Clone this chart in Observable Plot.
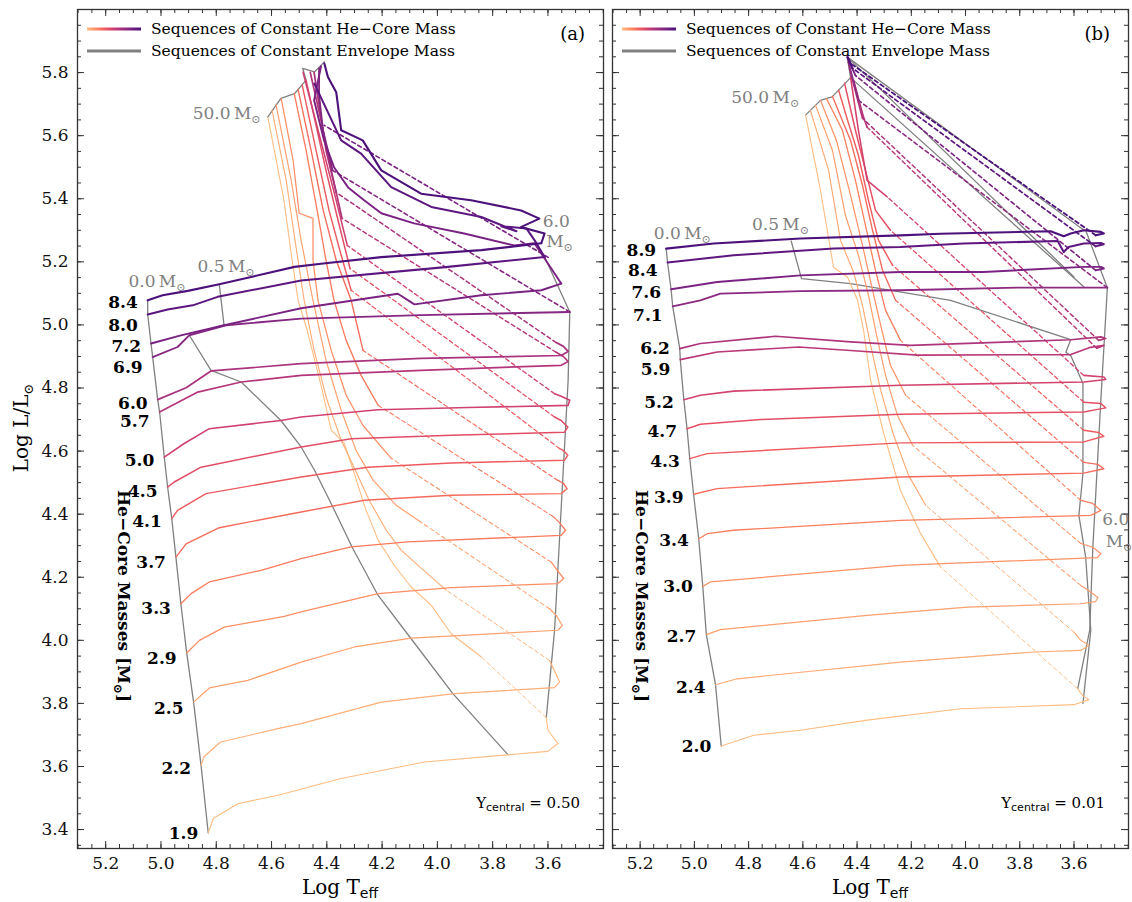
<!DOCTYPE html>
<html><head><meta charset="utf-8">
<script src="https://cdn.jsdelivr.net/npm/d3@7"></script>
<script src="https://cdn.jsdelivr.net/npm/@observablehq/plot@0.6"></script>
<style>
body{margin:0;background:#fff;}
#wrap{position:relative;width:1132px;height:902px;overflow:hidden;background:#fff;}
#wrap svg{position:absolute;top:0;overflow:visible;}
</style></head><body><div id="wrap"></div>
<script>
// ---------------- DATA (Log Teff, Log L) ----------------
const xTicks = [5.2, 5.0, 4.8, 4.6, 4.4, 4.2, 4.0, 3.8, 3.6];
const yTicks = [3.4, 3.6, 3.8, 4.0, 4.2, 4.4, 4.6, 4.8, 5.0, 5.2, 5.4, 5.6, 5.8];

// Panel (a)  Y_central = 0.50
const massA = [1.9, 2.2, 2.5, 2.9, 3.3, 3.7, 4.1, 4.5, 5.0, 5.7, 6.0, 6.9, 7.2, 8.0, 8.4];
const labelLA = [3.388, 3.594, 3.784, 3.943, 4.101, 4.247, 4.377, 4.472, 4.570, 4.694, 4.751, 4.866, 4.932, 4.998, 5.072];
const lowA = [
 [[4.829,3.389],[4.811,3.435],[4.722,3.482],[4.577,3.509],[4.348,3.562],[4.047,3.614],[3.600,3.648],[3.564,3.673],[3.600,3.715],[3.606,3.755]],
 [[4.855,3.603],[4.845,3.630],[4.786,3.677],[4.577,3.720],[4.493,3.736],[4.203,3.804],[3.938,3.831],[3.576,3.850],[3.558,3.868],[3.577,3.905],[3.594,3.936]],
 [[4.882,3.804],[4.825,3.849],[4.686,3.873],[4.493,3.931],[4.300,3.979],[4.095,4.007],[3.564,4.032],[3.548,4.047],[3.570,4.079],[3.594,4.100]],
 [[4.907,3.960],[4.861,4.000],[4.771,4.042],[4.554,4.076],[4.493,4.090],[4.215,4.148],[3.950,4.167],[3.564,4.180],[3.543,4.196],[3.566,4.222],[3.588,4.248]],
 [[4.928,4.116],[4.891,4.148],[4.825,4.185],[4.638,4.222],[4.493,4.259],[4.312,4.296],[4.107,4.312],[3.552,4.333],[3.536,4.349],[3.559,4.374],[3.582,4.393]],
 [[4.946,4.264],[4.909,4.306],[4.789,4.357],[4.493,4.407],[4.264,4.444],[3.950,4.460],[3.552,4.465],[3.531,4.481],[3.544,4.498],[3.564,4.507]],
 [[4.961,4.386],[4.940,4.412],[4.837,4.465],[4.493,4.518],[4.252,4.549],[3.950,4.562],[3.540,4.571],[3.528,4.587],[3.544,4.602],[3.558,4.608]],
 [[4.976,4.486],[4.952,4.502],[4.855,4.549],[4.493,4.613],[4.312,4.639],[3.950,4.650],[3.540,4.660],[3.528,4.676],[3.552,4.697],[3.576,4.708]],
 [[4.988,4.581],[4.916,4.624],[4.825,4.671],[4.566,4.697],[4.493,4.708],[4.215,4.731],[3.889,4.738],[3.527,4.745],[3.521,4.761],[3.552,4.774],[3.576,4.782]],
 [[5.005,4.724],[4.903,4.771],[4.867,4.787],[4.710,4.819],[4.493,4.840],[4.059,4.856],[3.552,4.872],[3.527,4.884],[3.544,4.900],[3.570,4.913]],
 [[5.012,4.763],[4.909,4.801],[4.819,4.854],[4.493,4.877],[4.059,4.894],[3.552,4.903],[3.527,4.916],[3.544,4.932],[3.570,4.944]],
 [[5.030,4.898],[4.940,4.930],[4.898,4.967],[4.765,4.999],[4.493,5.020],[4.059,5.031],[3.521,5.041]],
 [[5.036,4.941],[4.928,4.967],[4.771,4.999],[4.493,5.053],[4.143,5.099],[4.083,5.065],[3.841,5.094],[3.624,5.110],[3.552,5.131]],
 [[5.048,5.033],[4.976,5.049],[4.885,5.062],[4.795,5.089],[4.493,5.141],[3.962,5.184],[3.612,5.215]],
 [[5.048,5.078],[4.994,5.094],[4.903,5.108],[4.789,5.129],[4.674,5.152],[4.517,5.184],[4.421,5.194],[4.203,5.215],[3.841,5.237],[3.624,5.259]]
];
const dashA = [
 [[3.606,3.755],[3.841,3.947]],
 [[3.594,3.936],[3.968,4.159]],
 [[3.594,4.100],[4.059,4.374]],
 [[3.588,4.248],[4.167,4.577]],
 [[3.582,4.393],[4.214,4.745]],
 [[3.564,4.507],[4.269,4.919]],
 [[3.558,4.608],[4.312,5.110]],
 [[3.576,4.708],[4.316,5.179]],
 [[3.576,4.782],[4.326,5.252]],
 [[3.570,4.913],[4.345,5.338]],
 [[3.570,4.944],[4.366,5.420]],
 [[3.521,5.041],[4.379,5.490]],
 [[3.599,5.214],[4.410,5.633]],
 [],
 []
];
const highA = [
 [[3.841,3.947],[3.950,4.021],[4.022,4.111],[4.095,4.169],[4.156,4.238],[4.214,4.317],[4.261,4.419],[4.301,4.530],[4.337,4.625],[4.384,4.666],[4.421,4.809],[4.471,4.983],[4.504,5.078],[4.529,5.227],[4.555,5.395],[4.613,5.658]],
 [[3.968,4.159],[4.059,4.229],[4.131,4.286],[4.185,4.349],[4.247,4.444],[4.305,4.555],[4.348,4.634],[4.399,4.761],[4.446,4.919],[4.482,5.078],[4.515,5.268],[4.547,5.458],[4.598,5.680]],
 [[4.059,4.374],[4.149,4.428],[4.232,4.507],[4.294,4.602],[4.348,4.729],[4.403,4.888],[4.450,5.078],[4.493,5.268],[4.529,5.458],[4.584,5.699]],
 [[4.167,4.577],[4.269,4.681],[4.330,4.777],[4.384,4.919],[4.432,5.078],[4.450,5.205],[4.450,5.338],[4.500,5.354],[4.522,5.522],[4.565,5.718]],
 [[4.214,4.745],[4.276,4.840],[4.330,4.951],[4.374,5.078],[4.403,5.205],[4.435,5.363],[4.475,5.554],[4.518,5.734]],
 [[4.269,4.919],[4.312,5.078],[4.366,5.205],[4.413,5.363],[4.457,5.554],[4.504,5.747]],
 [[4.312,5.110],[4.348,5.221],[4.392,5.363],[4.439,5.554],[4.489,5.760]],
 [[4.316,5.179],[4.355,5.316],[4.403,5.490],[4.475,5.776]],
 [[4.326,5.252],[4.366,5.395],[4.413,5.554],[4.486,5.801]],
 [[4.345,5.338],[4.384,5.490],[4.421,5.649],[4.460,5.801]],
 [[4.366,5.420],[4.403,5.554],[4.446,5.801]],
 [[4.379,5.490],[4.414,5.617],[4.428,5.728],[4.428,5.814]],
 [[3.552,5.131],[3.588,5.179],[3.649,5.259],[3.722,5.252],[3.903,5.290],[4.084,5.322],[4.203,5.354],[4.265,5.395],[4.323,5.436],[4.374,5.500],[4.410,5.585],[4.446,5.712],[4.421,5.820]],
 [[3.612,5.215],[3.648,5.268],[3.678,5.306],[3.769,5.313],[3.714,5.297],[3.841,5.342],[4.022,5.374],[4.167,5.437],[4.276,5.543],[4.348,5.585],[4.445,5.765]],
 [[3.624,5.259],[3.612,5.290],[3.698,5.310],[3.631,5.337],[3.697,5.363],[3.878,5.395],[4.059,5.416],[4.203,5.490],[4.270,5.585],[4.348,5.617],[4.366,5.738],[4.396,5.786],[4.409,5.829]]
];
const env05A = [[4.789,5.129],[4.772,5.000],[4.898,4.968],[4.819,4.856],[4.710,4.819],[4.566,4.697],[4.493,4.613],[4.445,4.540],[4.384,4.433],[4.306,4.291],[4.215,4.143],[4.095,4.005],[3.944,3.831],[3.744,3.637]];
const env6A = [[3.648,5.258],[3.612,5.215],[3.521,5.041],[3.527,4.824],[3.576,4.032],[3.606,3.755]];
const env50A = [[4.614,5.659],[4.566,5.718],[4.517,5.733],[4.475,5.776],[4.487,5.813],[4.445,5.802],[4.409,5.834]];

// Panel (b)  Y_central = 0.01
const massB = [2.0, 2.4, 2.7, 3.0, 3.4, 3.9, 4.3, 4.7, 5.2, 5.9, 6.2, 7.1, 7.6, 8.4, 8.9];
const labelLB = [3.664, 3.851, 4.013, 4.171, 4.317, 4.453, 4.567, 4.663, 4.755, 4.860, 4.926, 5.030, 5.103, 5.173, 5.237];
const lowB = [
 [[4.901,3.665],[4.781,3.699],[4.609,3.715],[4.363,3.747],[4.018,3.783],[3.600,3.796],[3.545,3.812],[3.569,3.826],[3.587,3.847]],
 [[4.922,3.859],[4.842,3.878],[4.240,3.931],[3.748,3.963],[3.575,3.968],[3.545,3.984],[3.575,4.000],[3.600,4.026]],
 [[4.956,4.018],[4.904,4.034],[4.363,4.079],[3.993,4.105],[3.575,4.116],[3.520,4.123],[3.512,4.136],[3.546,4.158],[3.575,4.174]],
 [[4.969,4.171],[4.941,4.185],[4.240,4.238],[3.514,4.262],[3.501,4.275],[3.531,4.295],[3.575,4.307]],
 [[4.984,4.322],[4.953,4.338],[4.855,4.349],[4.240,4.380],[3.538,4.396],[3.501,4.412],[3.531,4.434],[3.575,4.444]],
 [[5.003,4.463],[4.916,4.481],[4.240,4.518],[3.564,4.530],[3.490,4.544],[3.512,4.558],[3.564,4.564]],
 [[5.017,4.576],[4.953,4.592],[4.240,4.626],[3.564,4.629],[3.490,4.647],[3.509,4.659],[3.564,4.666]],
 [[5.027,4.671],[4.978,4.685],[4.756,4.700],[4.240,4.717],[3.564,4.724],[3.483,4.737],[3.501,4.751],[3.564,4.755]],
 [[5.039,4.763],[4.978,4.777],[4.855,4.790],[4.240,4.809],[3.563,4.819],[3.483,4.827],[3.490,4.835],[3.564,4.840]],
 [[5.052,4.890],[4.916,4.914],[4.615,4.930],[4.424,4.919],[4.177,4.904],[3.612,4.906],[3.539,4.929],[3.490,4.935],[3.516,4.926]],
 [[5.054,4.925],[4.978,4.941],[4.701,4.964],[4.424,4.946],[4.203,4.935],[3.612,4.953],[3.501,4.962],[3.483,4.957],[3.509,4.951]],
 [[5.080,5.059],[4.978,5.078],[4.904,5.099],[4.609,5.107],[4.240,5.110],[3.808,5.118],[3.477,5.118]],
 [[5.086,5.113],[4.916,5.136],[4.609,5.157],[4.240,5.168],[3.933,5.168],[3.564,5.184],[3.501,5.184],[3.490,5.179],[3.520,5.173]],
 [[5.099,5.198],[4.855,5.221],[4.486,5.242],[4.240,5.247],[4.007,5.258],[3.660,5.266],[3.638,5.231],[3.620,5.247],[3.564,5.258],[3.501,5.260],[3.490,5.256],[3.520,5.249]],
 [[5.104,5.242],[4.929,5.258],[4.609,5.274],[4.240,5.284],[4.092,5.289],[3.686,5.297],[3.638,5.281],[3.612,5.290],[3.564,5.300],[3.501,5.295],[3.490,5.290],[3.520,5.284]]
];
const dashB = [
 [[3.587,3.847],[4.092,4.232]],
 [[3.600,4.026],[4.147,4.428]],
 [[3.575,4.174],[4.195,4.618]],
 [[3.575,4.307],[4.221,4.777]],
 [[3.575,4.444],[4.240,4.951]],
 [[3.564,4.564],[4.258,5.078]],
 [[3.564,4.666],[4.269,5.189]],
 [[3.564,4.755],[4.277,5.300]],
 [[3.564,4.840],[4.289,5.406]],
 [[3.516,4.926],[4.363,5.627]],
 [[3.509,4.951],[4.380,5.655]],
 [[3.477,5.118],[4.395,5.712]],
 [[3.520,5.173],[4.406,5.791]],
 [[3.520,5.249],[4.417,5.814]],
 [[3.520,5.284],[4.424,5.829]]
];
const highB = [
 [[4.092,4.232],[4.166,4.339],[4.240,4.475],[4.302,4.656],[4.350,4.824],[4.376,4.983],[4.398,5.078],[4.435,5.151],[4.487,5.183],[4.535,5.427],[4.590,5.665]],
 [[4.147,4.428],[4.210,4.523],[4.265,4.650],[4.313,4.793],[4.350,4.935],[4.380,5.062],[4.413,5.167],[4.461,5.268],[4.505,5.490],[4.572,5.680]],
 [[4.195,4.618],[4.251,4.713],[4.295,4.840],[4.328,4.967],[4.358,5.094],[4.395,5.221],[4.443,5.347],[4.491,5.554],[4.553,5.696]],
 [[4.221,4.777],[4.277,4.872],[4.313,4.999],[4.347,5.126],[4.380,5.252],[4.424,5.411],[4.476,5.585],[4.535,5.712]],
 [[4.240,4.951],[4.295,5.046],[4.332,5.173],[4.365,5.300],[4.406,5.458],[4.454,5.617],[4.513,5.718]],
 [[4.258,5.078],[4.306,5.173],[4.343,5.300],[4.380,5.442],[4.424,5.585],[4.491,5.725]],
 [[4.269,5.189],[4.321,5.268],[4.358,5.395],[4.395,5.538],[4.435,5.649],[4.468,5.744]],
 [[4.277,5.300],[4.332,5.363],[4.369,5.490],[4.406,5.617],[4.446,5.766]],
 [[4.289,5.406],[4.363,5.458],[4.395,5.617],[4.424,5.785]],
 [[4.363,5.627],[4.376,5.658],[4.413,5.776]],
 [[4.380,5.655],[4.428,5.814]],
 [[4.395,5.712],[4.432,5.833]],
 [[4.406,5.791],[4.435,5.845]],
 [[4.417,5.814],[4.435,5.849]],
 [[4.424,5.829],[4.435,5.849]]
];
const env05B = [[4.643,5.266],[4.605,5.147],[4.424,5.131],[4.055,5.078],[3.612,4.953],[3.630,4.913],[3.612,4.903],[3.567,4.814],[3.567,4.529],[3.582,4.396],[3.557,4.264],[3.538,4.032],[3.567,3.800]];
const env6B = [[3.557,5.300],[3.477,5.118],[3.501,4.761],[3.531,4.286],[3.542,4.032],[3.586,3.848]];
const env50B = [[4.590,5.665],[4.535,5.712],[4.492,5.723],[4.424,5.784],[4.436,5.849]];
const envHiB = [
 [[4.436,5.849],[3.563,5.300]],
 [[4.436,5.849],[3.600,5.152]],
 [[4.424,5.784],[3.563,5.120]]
];

// ---------------- DRAWING ----------------
const SERIF = "DejaVu Serif, serif";
const SANS = "DejaVu Sans, sans-serif";
const GRAY = "#808080";
const H = 902, MT = 9, MB = 54;
const FH = H - MT - MB;

function seqColor(m, lo, hi) { return d3.interpolateMagma(0.86 - (m - lo) / (hi - lo) * 0.62); }
function seqWidth(m, lo, hi) { return 1.1 + (m - lo) / (hi - lo) * 1.0; }

function panel(cfg) {
  const {mass, labelL, low, dash, high, envs, width, ml, mr, showY} = cfg;
  const lo = d3.min(mass), hi = d3.max(mass);
  const FW = width - ml - mr;
  const marks = [];
  const P = {x: d => d[0], y: d => d[1]};
  const boundary = low.map(s => s[0]);
  marks.push(Plot.line(boundary, {...P, stroke: GRAY, strokeWidth: 1.3}));
  for (const e of envs) marks.push(Plot.line(e, {...P, stroke: GRAY, strokeWidth: 1.3}));
  mass.forEach((m, k) => {
    const c = seqColor(m, lo, hi), w = seqWidth(m, lo, hi);
    if (dash[k].length) marks.push(Plot.line(dash[k], {...P, stroke: c, strokeWidth: w * 0.85, strokeDasharray: "4,3"}));
    marks.push(Plot.line(low[k], {...P, stroke: c, strokeWidth: w, strokeLinejoin: "round"}));
    if (high[k].length) marks.push(Plot.line(high[k], {...P, stroke: c, strokeWidth: w, strokeLinejoin: "round"}));
  });
  marks.push(Plot.text(mass, {x: (d, i) => low[i][0][0], y: (d, i) => labelL[i], text: d => d.toFixed(1),
    dx: -10, textAnchor: "end", fontWeight: "bold", fontSize: 17, fontFamily: SERIF, fill: "#000"}));
  const minorX = d3.range(5.30, 3.399, -0.05).map(v => +v.toFixed(2));
  const minorY = d3.range(3.35, 6.0001, 0.05).map(v => +v.toFixed(2));
  const tk = {stroke: "#333", strokeWidth: 1};
  marks.push(Plot.ruleX(minorX, {...tk, insetTop: FH - 4}));
  marks.push(Plot.ruleX(minorX, {...tk, insetBottom: FH - 4}));
  marks.push(Plot.ruleX(xTicks, {...tk, insetTop: FH - 7}));
  marks.push(Plot.ruleX(xTicks, {...tk, insetBottom: FH - 7}));
  marks.push(Plot.ruleY(minorY, {...tk, insetRight: FW - 4}));
  marks.push(Plot.ruleY(minorY, {...tk, insetLeft: FW - 4}));
  marks.push(Plot.ruleY(yTicks, {...tk, insetRight: FW - 7}));
  marks.push(Plot.ruleY(yTicks, {...tk, insetLeft: FW - 7}));
  marks.push(Plot.frame({stroke: "#333", strokeWidth: 1.3}));
  return Plot.plot({
    width, height: H, marginLeft: ml, marginRight: mr, marginTop: MT, marginBottom: MB,
    style: {fontFamily: SERIF, fontSize: "17px", color: "#111", background: "transparent"},
    x: {domain: [5.302, 3.399], ticks: xTicks, tickSize: 0, tickPadding: 8, tickFormat: d => d.toFixed(1), label: null},
    y: {domain: [3.34, 6.0], ticks: yTicks, tickSize: 0, tickPadding: 9, tickFormat: d => d.toFixed(1), label: null, axis: showY ? "left" : null},
    marks
  });
}

function addText(sel, x, y, parts, opts = {}) {
  const t = sel.append("text").attr("x", x).attr("y", y)
    .attr("font-family", opts.family || SERIF).attr("font-size", opts.size || 17)
    .attr("fill", opts.fill || "#000").attr("text-anchor", opts.anchor || "start");
  if (opts.weight) t.attr("font-weight", opts.weight);
  if (opts.transform) t.attr("transform", opts.transform);
  for (const p of parts) {
    const s = t.append("tspan").text(p.t);
    if (p.sub) s.attr("font-size", p.size || (opts.size || 17) * 0.7).attr("dy", p.dy || 4);
    if (p.up) s.attr("dy", -p.up);
    if (p.family) s.attr("font-family", p.family);
  }
  return t;
}

function decorate(plot, cfg) {
  const svg = d3.select(plot);
  const sx = plot.scale("x"), sy = plot.scale("y");
  const X = v => sx.apply(v), Y = v => sy.apply(v);
  const g = svg.append("g");
  const r0 = X(5.302), r1 = X(3.399);
  const gid = "grad" + cfg.id;
  const defs = svg.append("defs");
  const lg = defs.append("linearGradient").attr("id", gid).attr("gradientUnits", "userSpaceOnUse")
    .attr("x1", r0 + 10).attr("x2", r0 + 64).attr("y1", 0).attr("y2", 0);
  d3.range(0, 1.0001, 0.1).forEach(t => lg.append("stop").attr("offset", t).attr("stop-color", d3.interpolateMagma(0.86 - t * 0.62)));
  g.append("rect").attr("x", r0 + 10).attr("y", 27.5).attr("width", 54).attr("height", 3).attr("fill", `url(#${gid})`);
  g.append("rect").attr("x", r0 + 10).attr("y", 49.5).attr("width", 54).attr("height", 3).attr("fill", GRAY);
  addText(g, r0 + 74, 34, [{t: "Sequences of Constant He\u2212Core Mass"}], {size: 15.5});
  addText(g, r0 + 74, 56, [{t: "Sequences of Constant Envelope Mass"}], {size: 15.5});
  addText(g, r1 - 18, 40, [{t: cfg.tag}], {size: 18, anchor: "end"});
  addText(g, r1 - 23, 808, [{t: "Y"}, {t: "central", sub: true, family: SANS, size: 11, dy: 3}, {t: " = " + cfg.yc, up: 3}], {size: 15, anchor: "end"});
  for (const L of cfg.envLabels) {
    addText(g, X(L.x), Y(L.y), L.m ? [{t: L.t + "\u2009M"}, {t: "\u2299", sub: true, size: 11, dy: 4}] : [{t: L.t}],
      {fill: GRAY, size: 17, anchor: L.anchor || "start"});
  }
  addText(g, 0, 0, [{t: "He\u2212Core Masses [M"}, {t: "\u2299", sub: true, size: 12, dy: 4}, {t: "]", up: 4}],
    {size: 17, weight: "bold", anchor: "middle", transform: `translate(${cfg.coreLabelX},596) rotate(90)`});
  const mx = (r0 + r1) / 2;
  addText(g, mx, 894, [{t: "Log T"}, {t: "eff", sub: true, family: SANS, size: 14, dy: 4}], {size: 20, anchor: "middle"});
  if (cfg.showY) {
    addText(g, 0, 0, [{t: "Log L/L"}, {t: "\u2299", sub: true, size: 13, dy: 5}], {size: 20, anchor: "middle", transform: "translate(28,428) rotate(-90)"});
  }
}

const wrap = d3.select("#wrap");
const cfgA = {id: "A", tag: "(a)", yc: "0.50", mass: massA, labelL: labelLA, low: lowA, dash: dashA, high: highA,
  envs: [env05A, env6A, env50A], width: 606, ml: 77, mr: 3, showY: true, coreLabelX: 118,
  envLabels: [
    {t: "50.0", m: true, x: 4.638, y: 5.652, anchor: "end"},
    {t: "0.0", m: true, x: 5.116, y: 5.119},
    {t: "0.5", m: true, x: 4.866, y: 5.167},
    {t: "6.0", x: 3.617, y: 5.309},
    {t: "", m: true, x: 3.617, y: 5.246}
  ]};
const cfgB = {id: "B", tag: "(b)", yc: "0.01", mass: massB, labelL: labelLB, low: lowB, dash: dashB, high: highB,
  envs: [env05B, env6B, env50B, ...envHiB], width: 526, ml: 6, mr: 4, showY: false, coreLabelX: 636 - 606,
  envLabels: [
    {t: "50.0", m: true, x: 4.612, y: 5.703, anchor: "end"},
    {t: "0.0", m: true, x: 5.148, y: 5.271},
    {t: "0.5", m: true, x: 4.786, y: 5.300},
    {t: "6.0", x: 3.494, y: 4.364},
    {t: "", m: true, x: 3.494, y: 4.295}
  ]};
const pA = panel(cfgA);
pA.style.left = "0px";
wrap.node().appendChild(pA);
decorate(pA, cfgA);
const pB = panel(cfgB);
pB.style.left = "606px";
wrap.node().appendChild(pB);
decorate(pB, cfgB);
</script>
</body></html>
